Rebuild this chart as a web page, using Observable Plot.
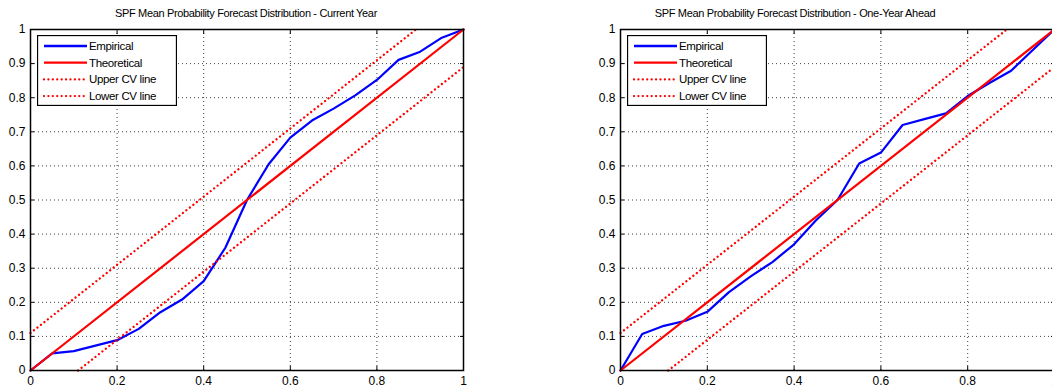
<!DOCTYPE html>
<html><head><meta charset="utf-8">
<script src="https://cdn.jsdelivr.net/npm/d3@7"></script>
<script src="https://cdn.jsdelivr.net/npm/@observablehq/plot@0.6"></script>
<style>
html,body{margin:0;padding:0;background:#fff;overflow:hidden}
#wrap{position:relative;width:1052px;height:392px;overflow:hidden;font-family:"Liberation Sans",Arial,sans-serif;color:#000}
.panel{position:absolute;top:0;height:392px}
.title{position:absolute;top:3px;height:20px;font-size:11px;letter-spacing:-0.35px;line-height:20px;text-align:center;white-space:nowrap}
.chart{position:absolute;top:22px;left:0}
.legend{position:absolute;top:35px;left:37px}
</style>
</head><body>
<div id="wrap"></div>
<script>
// ---- data ----
const probGrid = [0,0.05,0.1,0.15,0.2,0.25,0.3,0.35,0.4,0.45,0.5,0.55,0.6,0.65,0.7,0.75,0.8,0.85,0.9,0.95,1];
const empiricalCurrent = [0,0.05,0.057,0.073,0.089,0.122,0.171,0.208,0.262,0.36,0.5,0.605,0.683,0.733,0.768,0.807,0.852,0.911,0.935,0.976,1];
const empiricalAhead = [0,0.107,0.131,0.146,0.172,0.23,0.276,0.318,0.37,0.44,0.5,0.607,0.639,0.72,0.737,0.754,0.805,0.843,0.879,0.94,1];
const theoreticalX = [0,1];
const theoreticalY = [0,1];
const upperX = [0,0.89];
const upperY = [0.11,1];
const lowerX = [0.11,1];
const lowerY = [0,0.89];
const xTicks = [0,0.2,0.4,0.6,0.8,1];
const xTickLabels = ["0","0.2","0.4","0.6","0.8","1"];
const yTicks = [0,0.1,0.2,0.3,0.4,0.5,0.6,0.7,0.8,0.9,1];
const yTickLabels = ["0","0.1","0.2","0.3","0.4","0.5","0.6","0.7","0.8","0.9","1"];
const titles = ["SPF Mean Probability Forecast Distribution - Current Year",
                "SPF Mean Probability Forecast Distribution - One-Year Ahead"];
const legendLabels = ["Empirical","Theoretical","Upper CV line","Lower CV line"];

const BLUE = "#0000ff", RED = "#ff0000";
const DOTS = "0.01,4.4";
const toPts = (xs, ys) => xs.map((x, i) => ({x, y: ys[i]}));

function makePlot(emp, width, marginRight) {
  const innerX = xTicks.filter(d => d > 0 && d < 1);
  const innerY = yTicks.filter(d => d > 0 && d < 1);
  const noText = () => "";
  return Plot.plot({
    width, height: 370,
    marginLeft: 30, marginRight, marginTop: 7, marginBottom: 22,
    x: {domain: [0, 1], label: null},
    y: {domain: [0, 1], label: null},
    style: {fontFamily: "Liberation Sans, Arial, sans-serif", fontSize: "12px", color: "#000", background: "transparent", overflow: "visible"},
    marks: [
      Plot.gridX(innerX, {stroke: "#000", strokeOpacity: 0.75, strokeDasharray: "1,3"}),
      Plot.gridY(innerY, {stroke: "#000", strokeOpacity: 0.75, strokeDasharray: "1,3"}),
      Plot.line(toPts(probGrid, emp), {x: "x", y: "y", stroke: BLUE, strokeWidth: 2.2}),
      Plot.line(toPts(theoreticalX, theoreticalY), {x: "x", y: "y", stroke: RED, strokeWidth: 2.2}),
      Plot.line(toPts(upperX, upperY), {x: "x", y: "y", stroke: RED, strokeWidth: 2.3, strokeDasharray: DOTS, strokeLinecap: "round"}),
      Plot.line(toPts(lowerX, lowerY), {x: "x", y: "y", stroke: RED, strokeWidth: 2.3, strokeDasharray: DOTS, strokeLinecap: "round"}),
      Plot.frame({stroke: "#000", strokeWidth: 1.5}),
      Plot.axisX(xTicks, {anchor: "bottom", label: null, tickSize: 0, tickPadding: 6, tickFormat: (d, i) => xTickLabels[i], fontSize: 12}),
      Plot.axisY(yTicks, {anchor: "left", label: null, tickSize: 0, tickPadding: 5, tickFormat: (d, i) => yTickLabels[i], fontSize: 12}),
      Plot.axisX(xTicks, {anchor: "bottom", label: null, tickSize: -4, tickFormat: noText}),
      Plot.axisX(xTicks, {anchor: "top", label: null, tickSize: -4, tickFormat: noText}),
      Plot.axisY(yTicks, {anchor: "left", label: null, tickSize: -4, tickFormat: noText}),
      Plot.axisY(yTicks, {anchor: "right", label: null, tickSize: -4, tickFormat: noText})
    ]
  });
}

function makeLegend() {
  const svg = d3.create("svg").attr("width", 140).attr("height", 71);
  svg.append("rect").attr("x", 0.5).attr("y", 0.5).attr("width", 139).attr("height", 70)
     .attr("fill", "#fff").attr("stroke", "#000").attr("stroke-width", 1.3);
  const styles = [
    {stroke: BLUE, dash: null, cap: "butt"},
    {stroke: RED, dash: null, cap: "butt"},
    {stroke: RED, dash: DOTS, cap: "round"},
    {stroke: RED, dash: DOTS, cap: "round"}
  ];
  legendLabels.forEach((lab, i) => {
    const cy = 11 + i * 16.7;
    svg.append("line").attr("x1", 7).attr("x2", 50).attr("y1", cy).attr("y2", cy)
      .attr("stroke", styles[i].stroke).attr("stroke-width", 2.3)
      .attr("stroke-linecap", styles[i].cap)
      .attr("stroke-dasharray", styles[i].dash);
    svg.append("text").attr("x", 52).attr("y", cy + 4)
      .attr("font-family", "Liberation Sans, Arial, sans-serif").attr("font-size", 11.5)
      .attr("letter-spacing", "-0.35").text(lab);
  });
  return svg.node();
}

const wrap = document.getElementById("wrap");
const panels = [
  {left: 0, width: 590, marginRight: 127, emp: empiricalCurrent, titleCenter: 246},
  {left: 590, width: 470, marginRight: 6, emp: empiricalAhead, titleCenter: 205}
];
panels.forEach((p, k) => {
  const div = document.createElement("div");
  div.className = "panel";
  div.style.left = p.left + "px";
  div.style.width = p.width + "px";
  const t = document.createElement("div");
  t.className = "title";
  t.style.left = (p.titleCenter - 200) + "px";
  t.style.width = "400px";
  t.textContent = titles[k];
  div.appendChild(t);
  const c = document.createElement("div");
  c.className = "chart";
  c.appendChild(makePlot(p.emp, p.width, p.marginRight));
  div.appendChild(c);
  const lg = document.createElement("div");
  lg.className = "legend";
  lg.appendChild(makeLegend());
  div.appendChild(lg);
  wrap.appendChild(div);
});
</script>
</body></html>
